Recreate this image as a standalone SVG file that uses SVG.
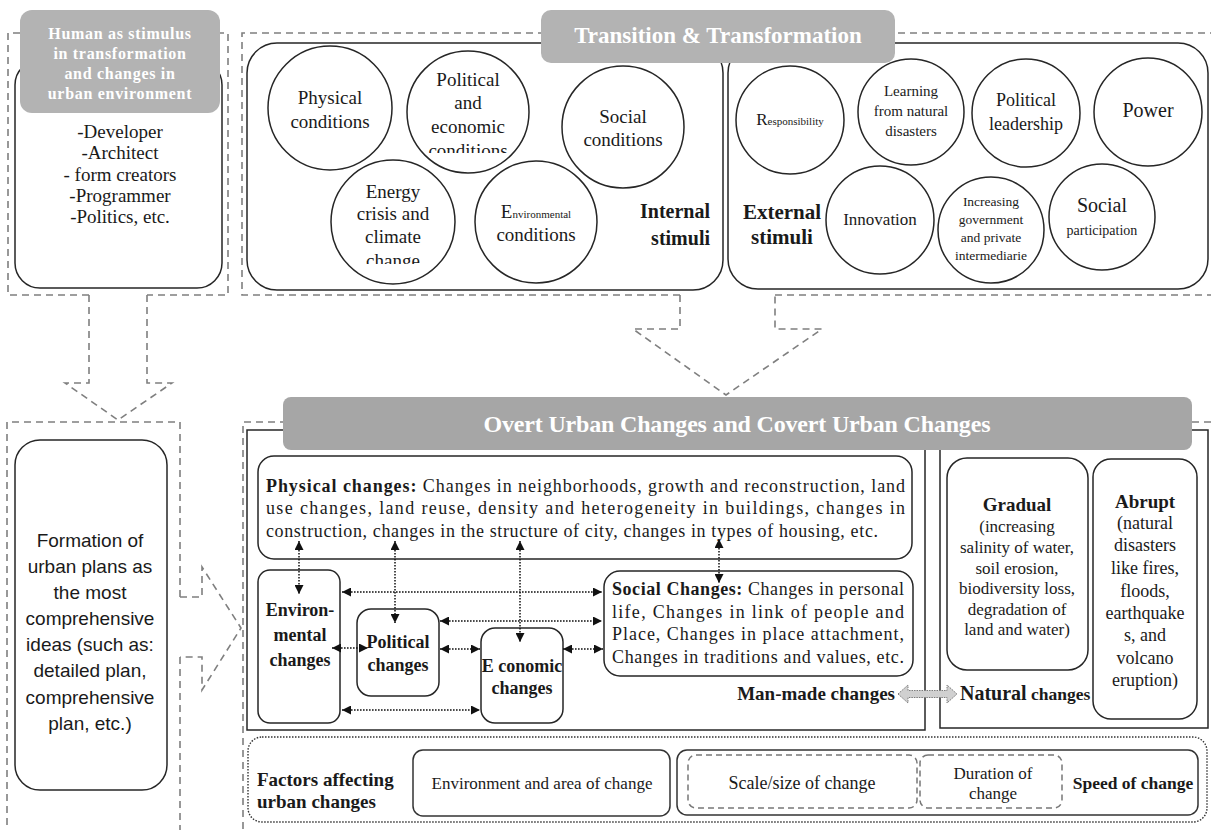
<svg xmlns="http://www.w3.org/2000/svg" width="1211" height="830" viewBox="0 0 1211 830">
<style>
.dash{fill:none;stroke:#7f7f7f;stroke-width:1.6;stroke-dasharray:7 5}
.box{fill:#fff;stroke:#262626;stroke-width:1.5}
.lbl{fill:#b3b3b3}
.t{font-family:"Liberation Serif",serif;fill:#1a1a1a}
.s{font-family:"Liberation Sans",Arial,sans-serif;fill:#1a1a1a}
.w{font-family:"Liberation Serif",serif;fill:#fff;font-weight:bold}
.b{font-weight:bold}
.c{text-anchor:middle}
.conn{fill:none;stroke:#111;stroke-width:1.5;stroke-dasharray:1.6 1.4;marker-start:url(#ah);marker-end:url(#ah)}
</style>
<defs>
<marker id="ah" viewBox="0 0 10 10" refX="10" refY="5" markerWidth="9" markerHeight="9" markerUnits="userSpaceOnUse" orient="auto-start-reverse">
<path d="M0,0 L10,5 L0,10 z" fill="#111"/>
</marker>
<clipPath id="cpPol"><rect x="400" y="50" width="140" height="103"/></clipPath>
<clipPath id="cpEn"><rect x="325" y="160" width="140" height="104"/></clipPath>
</defs>
<rect width="1211" height="830" fill="#fff"/>

<!-- frames -->
<g id="frames">
<path class="dash" d="M89,295 H8 V33 H228 V295 H147"/>
<path class="dash" d="M680,295 H242 V33 H1211 M775,295 H1211"/>
<path class="dash" d="M180,597 V422 H7 V835 M180,657 V835"/>
<path class="dash" d="M1211,422 H243 V835"/>
</g>

<!-- Human stimulus node -->
<g id="human">
<rect class="box" x="15" y="60" width="207" height="228" rx="25"/>
<rect class="lbl" x="20" y="10" width="200" height="103" rx="12"/>
<g class="w c" font-size="16" letter-spacing="0.7">
<text x="120" y="39">Human as stimulus</text>
<text x="120" y="59">in transformation</text>
<text x="120" y="79">and changes in</text>
<text x="120" y="99">urban environment</text>
</g>
<g class="t c" font-size="19">
<text x="120" y="138">-Developer</text>
<text x="120" y="159">-Architect</text>
<text x="120" y="181">- form creators</text>
<text x="120" y="202">-Programmer</text>
<text x="120" y="223">-Politics, etc.</text>
</g>
</g>

<!-- Internal stimuli -->
<g id="internal">
<rect class="box" x="247" y="43" width="476" height="247" rx="30"/>
<circle class="box" cx="330" cy="108" r="62"/>
<circle class="box" cx="468" cy="112" r="61"/>
<circle class="box" cx="623" cy="127" r="61"/>
<circle class="box" cx="393" cy="222" r="62"/>
<circle class="box" cx="536" cy="222" r="61"/>
<g class="t c" font-size="19">
<text x="330" y="104">Physical</text>
<text x="330" y="128">conditions</text>
<g clip-path="url(#cpPol)">
<text x="468" y="86">Political</text>
<text x="468" y="109">and</text>
<text x="468" y="133">economic</text>
<text x="468" y="157">conditions</text>
</g>
<text x="623" y="123">Social</text>
<text x="623" y="146">conditions</text>
<g clip-path="url(#cpEn)">
<text x="393" y="198">Energy</text>
<text x="393" y="220">crisis and</text>
<text x="393" y="243">climate</text>
<text x="393" y="267">change</text>
</g>
<text x="536" y="218"><tspan font-size="19">E</tspan><tspan font-size="11">nvironmental</tspan></text>
<text x="536" y="241">conditions</text>
</g>
<g class="t b" font-size="20" text-anchor="end">
<text x="710" y="218">Internal</text>
<text x="710" y="245">stimuli</text>
</g>
</g>

<!-- External stimuli -->
<g id="external">
<rect class="box" x="728" y="43" width="480" height="246" rx="30"/>
<circle class="box" cx="790" cy="120" r="54"/>
<circle class="box" cx="911" cy="112" r="53"/>
<circle class="box" cx="1026" cy="113" r="54"/>
<circle class="box" cx="1148" cy="112" r="54"/>
<circle class="box" cx="880" cy="220" r="54"/>
<circle class="box" cx="991" cy="230" r="53"/>
<circle class="box" cx="1102" cy="217" r="53"/>
<g class="t c">
<text x="790" y="125"><tspan font-size="17">R</tspan><tspan font-size="11">esponsibility</tspan></text>
<text x="911" y="96" font-size="15">Learning</text>
<text x="911" y="116" font-size="15">from natural</text>
<text x="911" y="136" font-size="15">disasters</text>
<text x="1026" y="106" font-size="18">Political</text>
<text x="1026" y="130" font-size="18">leadership</text>
<text x="1148" y="117" font-size="20">Power</text>
<text x="880" y="225" font-size="17">Innovation</text>
<text x="991" y="206" font-size="13.5">Increasing</text>
<text x="991" y="224" font-size="13.5">government</text>
<text x="991" y="242" font-size="13.5">and private</text>
<text x="991" y="260" font-size="13.5">intermediarie</text>
<text x="1102" y="212" font-size="20">Social</text>
<text x="1102" y="235" font-size="14">participation</text>
</g>
<g class="t b c" font-size="21">
<text x="782" y="219">External</text>
<text x="782" y="244">stimuli</text>
</g>
</g>

<!-- Transition title -->
<g id="transition">
<rect class="lbl" x="541" y="10" width="354" height="53" rx="10"/>
<text class="w c" x="718" y="43" font-size="23">Transition &amp; Transformation</text>
</g>

<!-- Formation node -->
<g id="formation">
<rect class="box" x="15" y="440" width="152" height="350" rx="25"/>
<g class="s c" font-size="19">
<text x="90" y="547">Formation of</text>
<text x="90" y="573">urban plans as</text>
<text x="90" y="599">the most</text>
<text x="90" y="625">comprehensive</text>
<text x="90" y="651">ideas (such as:</text>
<text x="90" y="677">detailed plan,</text>
<text x="90" y="704">comprehensive</text>
<text x="90" y="730">plan, etc.)</text>
</g>
</g>

<!-- Overt/Covert container -->
<g id="overt">
<rect x="247" y="430" width="678" height="300" fill="#fff" stroke="#262626" stroke-width="1.5"/>
<rect x="940" y="430" width="268" height="298" fill="#fff" stroke="#262626" stroke-width="1.5"/>
<rect x="283" y="397" width="909" height="53" rx="8" fill="#a6a6a6"/>
<text class="w c" x="737" y="432" font-size="24" textLength="507" lengthAdjust="spacing">Overt Urban Changes and Covert Urban Changes</text>
</g>

<g id="physical">
<rect class="box" x="258" y="456" width="654" height="103" rx="16"/>
<g class="t" font-size="18">
<text x="266" y="492" textLength="639" lengthAdjust="spacing"><tspan class="b">Physical changes:</tspan> Changes in neighborhoods, growth and reconstruction, land</text>
<text x="266" y="514" textLength="639" lengthAdjust="spacing">use changes, land reuse, density and heterogeneity in buildings, changes in</text>
<text x="266" y="537" textLength="612" lengthAdjust="spacing">construction, changes in the structure of city, changes in types of housing, etc.</text>
</g>
</g>

<g id="environmental">
<rect class="box" x="258" y="570" width="82" height="153" rx="12"/>
<g class="t b c" font-size="18">
<text x="300" y="616">Environ-</text>
<text x="300" y="641">mental</text>
<text x="300" y="666">changes</text>
</g>
</g>

<g id="political">
<rect class="box" x="357" y="609" width="82" height="87" rx="14"/>
<g class="t b c" font-size="18">
<text x="398" y="648">Political</text>
<text x="398" y="671">changes</text>
</g>
</g>

<g id="economic">
<rect class="box" x="481" y="628" width="82" height="95" rx="14"/>
<g class="t b c" font-size="18">
<text x="522" y="672">E conomic</text>
<text x="522" y="694">changes</text>
</g>
</g>

<g id="social">
<rect class="box" x="604" y="571" width="309" height="105" rx="16"/>
<g class="t" font-size="18">
<text x="612" y="595" textLength="292" lengthAdjust="spacing"><tspan class="b">Social Changes:</tspan> Changes in personal</text>
<text x="612" y="618" textLength="292" lengthAdjust="spacing">life, Changes in link of people and</text>
<text x="612" y="640" textLength="292" lengthAdjust="spacing">Place, Changes in place attachment,</text>
<text x="612" y="663" textLength="292" lengthAdjust="spacing">Changes in traditions and values, etc.</text>
</g>
</g>

<g id="manmade">
<text class="t b" x="895" y="700" font-size="19" text-anchor="end">Man-made changes</text>
</g>

<g id="natural">
<text class="t b" x="960" y="700"><tspan font-size="20">Natural</tspan><tspan font-size="17.5"> changes</tspan></text>
</g>

<g id="gradual">
<rect class="box" x="947" y="458" width="141" height="212" rx="20"/>
<g class="t c" font-size="17">
<text x="1017" y="511" class="b" font-size="19">Gradual</text>
<text x="1017" y="532">(increasing</text>
<text x="1017" y="553">salinity of water,</text>
<text x="1017" y="574">soil erosion,</text>
<text x="1017" y="594">biodiversity loss,</text>
<text x="1017" y="615">degradation of</text>
<text x="1017" y="635">land and water)</text>
</g>
</g>

<g id="abrupt">
<rect class="box" x="1093" y="459" width="104" height="260" rx="18"/>
<g class="t c" font-size="18">
<text x="1145" y="508" class="b" font-size="19">Abrupt</text>
<text x="1145" y="529">(natural</text>
<text x="1145" y="551">disasters</text>
<text x="1145" y="574">like fires,</text>
<text x="1145" y="597">floods,</text>
<text x="1145" y="619">earthquake</text>
<text x="1145" y="641">s, and</text>
<text x="1145" y="664">volcano</text>
<text x="1145" y="686">eruption)</text>
</g>
</g>

<g id="factors">
<rect x="248" y="737" width="959" height="85" rx="14" fill="none" stroke="#333" stroke-width="1.4" stroke-dasharray="1.5 1.5"/>
<g class="t b" font-size="19">
<text x="257" y="786">Factors affecting</text>
<text x="257" y="808">urban changes</text>
</g>
</g>

<g id="area">
<rect x="413" y="750" width="257" height="66" rx="10" fill="#fff" stroke="#333" stroke-width="1.5"/>
<text class="t c" x="542" y="789" font-size="17" fill="#333">Environment and area of change</text>
</g>

<g id="speed">
<rect x="677" y="750" width="521" height="65" rx="10" fill="#fff" stroke="#333" stroke-width="1.5"/>
<rect x="688" y="755" width="229" height="53" rx="8" fill="none" stroke="#777" stroke-width="1.5" stroke-dasharray="6 4"/>
<rect x="920" y="755" width="142" height="53" rx="8" fill="none" stroke="#777" stroke-width="1.5" stroke-dasharray="6 4"/>
<g class="t c" font-size="18" fill="#333">
<text x="802" y="789">Scale/size of change</text>
<text x="993" y="779" font-size="17">Duration of</text>
<text x="993" y="799" font-size="17">change</text>
</g>
<text class="t b c" x="1133" y="789" font-size="17.5">Speed of change</text>
</g>

<!-- connectors -->
<g id="connectors">
<path class="dash" d="M89,295 V383 H65 L118,420 L172,383 H147 V295"/>
<path class="dash" d="M680,295 V329 H633 L726,395 L822,329 H775 V295"/>
<path class="dash" d="M180,597 H202 V567 L241,628 L202,690 V657 H180"/>
<line class="conn" x1="299" y1="541" x2="299" y2="594"/>
<line class="conn" x1="395" y1="541" x2="395" y2="623"/>
<line class="conn" x1="520" y1="541" x2="520" y2="642"/>
<line class="conn" x1="719" y1="539" x2="719" y2="583"/>
<line class="conn" x1="342" y1="592" x2="602" y2="592"/>
<line class="conn" x1="440" y1="621" x2="602" y2="621"/>
<line class="conn" x1="332" y1="648" x2="368" y2="648"/>
<line class="conn" x1="440" y1="649" x2="480" y2="649"/>
<line class="conn" x1="563" y1="649" x2="603" y2="649"/>
<line class="conn" x1="342" y1="710" x2="480" y2="710"/>
<polygon points="898,694 908,685 908,690.5 947,690.5 947,685 957,694 947,703 947,697.5 908,697.5 908,703" fill="#d0d0d0" stroke="#7a7a7a" stroke-width="1" stroke-dasharray="1.5 1"/>
</g>
</svg>
